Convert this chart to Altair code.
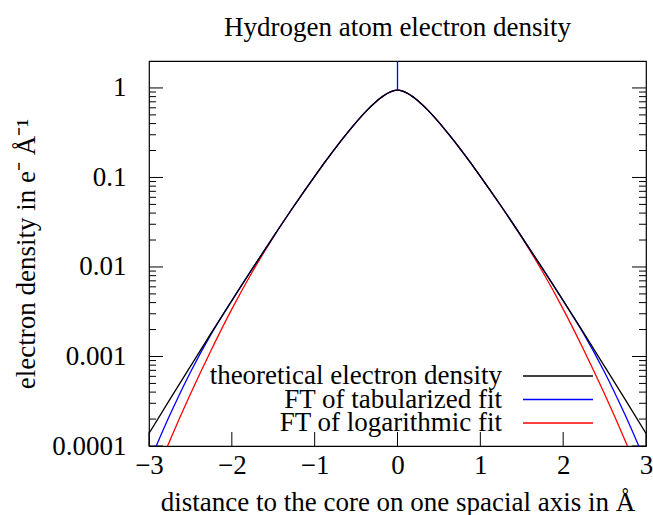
import altair as alt
import pandas as pd

# ---- data ----
x_vals = [-3.0, -2.75, -2.5, -2.25, -2.0, -1.75, -1.5, -1.25, -1.0, -0.875, -0.75, -0.625,
          -0.5, -0.375, -0.25, -0.1875, -0.125, -0.0625, 0.0, 0.0625, 0.125, 0.1875, 0.25,
          0.375, 0.5, 0.625, 0.75, 0.875, 1.0, 1.25, 1.5, 1.75, 2.0, 2.25, 2.5, 2.75, 3.0]

theory = [0.000138, 0.000329, 0.000776, 0.00182, 0.00421, 0.00963, 0.0217, 0.048, 0.103, 0.149,
          0.213, 0.299, 0.413, 0.554, 0.715, 0.795, 0.868, 0.923, 0.945, 0.923, 0.868, 0.795,
          0.715, 0.554, 0.413, 0.299, 0.213, 0.149, 0.103, 0.048, 0.0217, 0.00963, 0.00421,
          0.00182, 0.000776, 0.000329, 0.000138]

tabularized = [0.0000646, 0.00022, 0.000668, 0.00178, 0.00421, 0.00963, 0.0217, 0.048, 0.103, 0.149,
               0.213, 0.299, 0.413, 0.554, 0.715, 0.795, 0.868, 0.923, 0.945, 0.923, 0.868, 0.795,
               0.715, 0.554, 0.413, 0.299, 0.213, 0.149, 0.103, 0.048, 0.0217, 0.00963, 0.00421,
               0.00178, 0.000668, 0.00022, 0.0000646]

logarithmic = [0.0000316, 0.000114, 0.00038, 0.001175, 0.00338, 0.00889, 0.02146, 0.048, 0.103, 0.149,
               0.213, 0.299, 0.413, 0.554, 0.715, 0.795, 0.868, 0.923, 0.945, 0.923, 0.868, 0.795,
               0.715, 0.554, 0.413, 0.299, 0.213, 0.149, 0.103, 0.048, 0.02146, 0.00889, 0.00338,
               0.001175, 0.00038, 0.000114, 0.0000316]

spike_x = [0.0]
spike_from = [0.945]
spike_to = [2.0]

series_names = ["theoretical electron density", "FT of tabularized fit", "FT of logarithmic fit"]
series_colors = ["#000000", "#0000ff", "#ff0000"]

y_major = [0.0001, 0.001, 0.01, 0.1, 1]
y_minor = [0.0002, 0.0003, 0.0004, 0.0005, 0.0006, 0.0007, 0.0008, 0.0009,
           0.002, 0.003, 0.004, 0.005, 0.006, 0.007, 0.008, 0.009,
           0.02, 0.03, 0.04, 0.05, 0.06, 0.07, 0.08, 0.09,
           0.2, 0.3, 0.4, 0.5, 0.6, 0.7, 0.8, 0.9]
x_ticks = [-3, -2, -1, 0, 1, 2, 3]

# ---- layout ----
W, H = 497, 385
FONT = "Liberation Serif"
FS = 27
MAJ, MIN = 14, 7

yscale = alt.Scale(type="log", domain=[0.0001, 2])
xscale = alt.Scale(domain=[-3, 3], nice=False, zero=False)

df = pd.DataFrame({"x": x_vals, "theory": theory, "tab": tabularized, "logf": logarithmic})

x_axis = alt.Axis(values=x_ticks, title="distance to the core on one spacial axis in Å",
                  ticks=False, tickSize=0, domain=False, grid=False, format="d",
                  labelFont=FONT, labelFontSize=FS, labelPadding=6, labelColor="black",
                  titleFont=FONT, titleFontSize=FS, titleFontWeight="normal",
                  titlePadding=11, titleColor="black", labelFlush=False)
y_axis = alt.Axis(values=y_major, title="electron density in e⁻ Å⁻¹", format="~g",
                  ticks=False, tickSize=0, domain=False, grid=False,
                  labelFont=FONT, labelFontSize=FS, labelPadding=23, labelColor="black",
                  titleFont=FONT, titleFontSize=FS, titleFontWeight="normal",
                  titlePadding=11, titleColor="black")


def curve(col, color):
    return alt.Chart(df).mark_line(color=color, strokeWidth=1.3, clip=True,
                                   interpolate="monotone").encode(
        x=alt.X("x:Q", scale=xscale, axis=x_axis),
        y=alt.Y(f"{col}:Q", scale=yscale, axis=y_axis),
    )


ymaj = pd.DataFrame({"v": y_major})
ymin = pd.DataFrame({"v": y_minor})
xt = pd.DataFrame({"t": x_ticks})


def ytick(d, x0, x1):
    return alt.Chart(d).mark_rule(color="black", strokeWidth=1).encode(
        y=alt.Y("v:Q", scale=yscale, axis=y_axis), x=alt.value(x0), x2=alt.value(x1))


xtick = alt.Chart(xt).mark_rule(color="black", strokeWidth=1).encode(
    x=alt.X("t:Q", scale=xscale, axis=x_axis), y=alt.value(H), y2=alt.value(H - MAJ))

spike = alt.Chart(pd.DataFrame({"sx": spike_x, "s0": spike_from, "s1": spike_to})).mark_rule(
    color="#0000ff", strokeWidth=1.3, clip=True).encode(
    x=alt.X("sx:Q", scale=xscale, axis=x_axis),
    y=alt.Y("s0:Q", scale=yscale, axis=y_axis), y2="s1:Q")

legend_layers = []
ly0, ldy = 315, 23.5
for i, (name, col) in enumerate(zip(series_names, series_colors)):
    ld = pd.DataFrame({"label": [name]})
    legend_layers.append(
        alt.Chart(ld).mark_text(align="right", baseline="middle", font=FONT, fontSize=FS,
                                color="black").encode(
            text="label:N", x=alt.value(353), y=alt.value(ly0 + i * ldy)))
    legend_layers.append(
        alt.Chart(ld).mark_rule(color=col, strokeWidth=1.3).encode(
            x=alt.value(374), x2=alt.value(444), y=alt.value(ly0 + i * ldy)))

chart = alt.layer(
    ytick(ymaj, 0, MAJ), ytick(ymin, 0, MIN),
    ytick(ymaj, W, W - MAJ), ytick(ymin, W, W - MIN),
    xtick,
    curve("logf", "#ff0000"),
    curve("tab", "#0000ff"),
    spike,
    curve("theory", "#000000"),
    *legend_layers,
).properties(
    width=W, height=H,
    title=alt.TitleParams("Hydrogen atom electron density", font=FONT, fontSize=FS,
                          fontWeight="normal", color="black", anchor="middle",
                          frame="group", offset=19),
    padding={"left": 149, "top": 61, "right": 7, "bottom": 69},
    autosize=alt.AutoSizeParams(type="none"),
).configure_view(stroke="black", strokeWidth=1.2)

chart.save("out.html", embed_options={"renderer": "svg", "actions": False})
